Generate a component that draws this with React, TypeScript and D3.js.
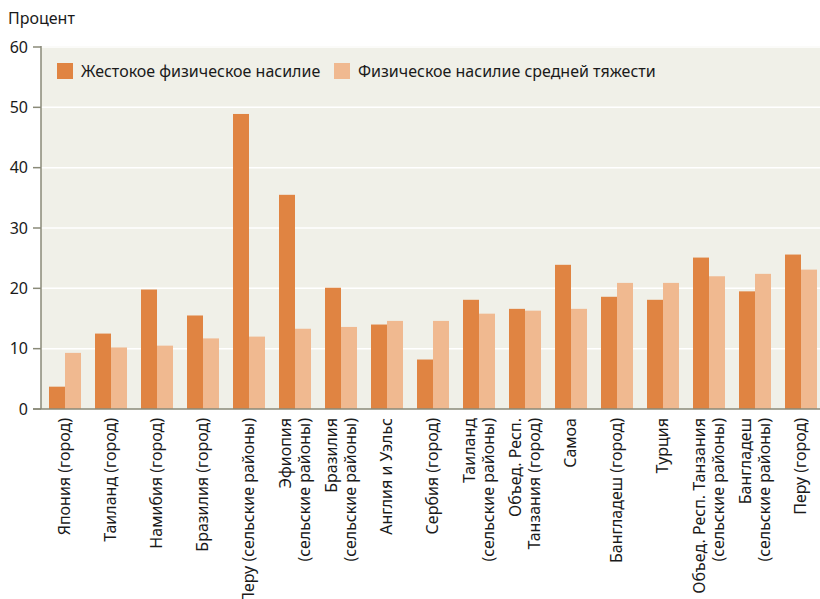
import React from "react";
import * as d3 from "d3";

const categories: string[][] = [
  ["Япония (город)"],
  ["Таиланд (город)"],
  ["Намибия (город)"],
  ["Бразилия (город)"],
  ["Перу (сельские районы)"],
  ["Эфиопия", "(сельские районы)"],
  ["Бразилия", "(сельские районы)"],
  ["Англия и Уэльс"],
  ["Сербия (город)"],
  ["Таиланд", "(сельские районы)"],
  ["Объед. Респ.", "Танзания (город)"],
  ["Самоа"],
  ["Бангладеш (город)"],
  ["Турция"],
  ["Объед. Респ. Танзания", "(сельские районы)"],
  ["Бангладеш", "(сельские районы)"],
  ["Перу (город)"],
];
const severe: number[] = [3.7, 12.5, 19.8, 15.5, 48.9, 35.5, 20.1, 14.0, 8.2, 18.1, 16.6, 23.9, 18.6, 18.1, 25.1, 19.5, 25.6];
const moderate: number[] = [9.3, 10.2, 10.5, 11.7, 12.0, 13.3, 13.6, 14.6, 14.6, 15.8, 16.3, 16.6, 20.9, 20.9, 22.0, 22.4, 23.1];
const seriesNames: string[] = ["Жестокое физическое насилие", "Физическое насилие средней тяжести"];
const yTicks: number[] = [0, 10, 20, 30, 40, 50, 60];
const yTitle = "Процент";

const W = 820, H = 599;
const left = 41, right = 820, top = 46;
const colors = ["#e08442", "#f0b990"];
const font = "'Noto Sans', sans-serif";
const fs = 16;

export default function App() {
  const y = d3.scaleLinear().domain([0, 60]).range([409, 47]);
  const keys = categories.map((c) => c.join(" "));
  const x = d3.scaleBand<string>().domain(keys).range([41, 825]).paddingInner(14 / 46).paddingOuter(8 / 46);
  const xs = d3.scaleBand<number>().domain([0, 1]).range([0, x.bandwidth()]);
  const series = [severe, moderate];
  return (
    <svg width={W} height={H} style={{ position: "absolute", left: 0, top: 0, display: "block", background: "#fff" }} fontFamily={font}>
      <rect x={left} y={top} width={right - left} height={y(0) - top} fill="#f0f0e8" />
      {yTicks.filter((t) => t > 0).map((t) => (
        <line key={t} x1={left} x2={right} y1={y(t)} y2={y(t)} stroke="#fff" strokeWidth={1.5} />
      ))}
      {series.map((vals, si) =>
        vals.map((v, i) => (
          <rect key={si + "-" + i} x={(x(keys[i]) as number) + (xs(si) as number)} y={y(v)} width={xs.bandwidth()} height={y(0) - y(v)} fill={colors[si]} />
        ))
      )}
      <line x1={left} x2={left} y1={top} y2={y(0)} stroke="#8a8a78" strokeWidth={1.5} />
      <line x1={left - 8} x2={right} y1={y(0)} y2={y(0)} stroke="#8a8a78" strokeWidth={1.5} />
      {yTicks.map((t) => (
        <g key={t}>
          <line x1={left - 8} x2={left} y1={y(t)} y2={y(t)} stroke="#8a8a78" strokeWidth={1.5} />
          <text x={28} y={y(t)} dy="0.35em" textAnchor="end" fontSize={fs} fill="#1a1a1a">{t}</text>
        </g>
      ))}
      <text x={8} y={24} fontSize={fs} fill="#1a1a1a">{yTitle}</text>
      {categories.map((lines, i) => {
        const cx = (x(keys[i]) as number) + x.bandwidth() / 2;
        const n = lines.length;
        return lines.map((ln, j) => {
          const lx = cx + (j - (n - 1) / 2) * 19 + 5;
          return (
            <text key={i + "-" + j} transform={`translate(${lx},418) rotate(-90)`} textAnchor="end" fontSize={fs} fill="#1a1a1a">{ln}</text>
          );
        });
      })}
      {seriesNames.map((name, i) => {
        const lx = i === 0 ? 57 : 334;
        return (
          <g key={name}>
            <rect x={lx} y={63} width={16} height={16} fill={colors[i]} />
            <text x={lx + 24} y={77} fontSize={fs} fill="#1a1a1a">{name}</text>
          </g>
        );
      })}
    </svg>
  );
}
